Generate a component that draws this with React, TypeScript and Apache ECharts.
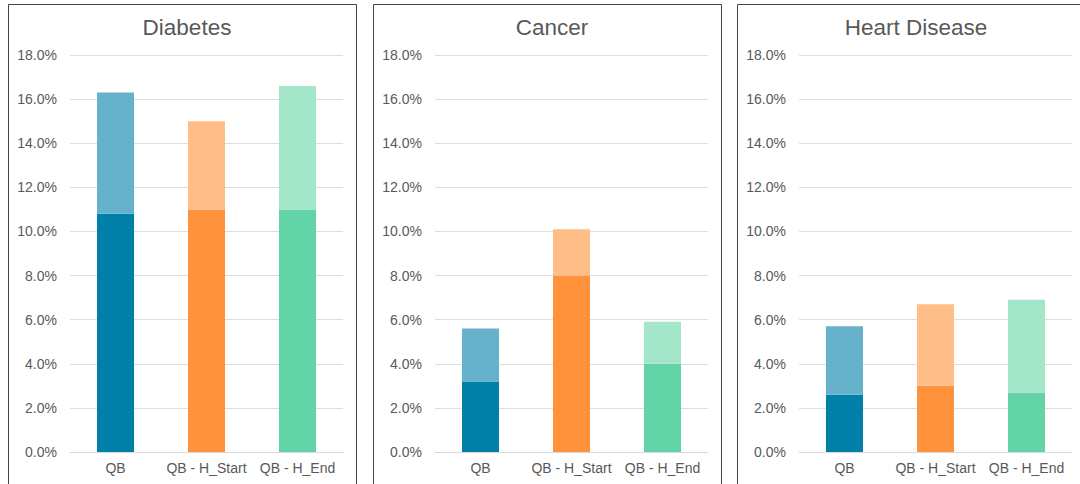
import React, { useEffect, useRef } from "react";
import * as echarts from "echarts";

// Category labels shared by every panel
const categories = ["QB", "QB - H_Start", "QB - H_End"];
const panelTitles = ["Diabetes", "Cancer", "Heart Disease"];

// Lower (darker) segment of each bar
const diabetesBase = [0.108, 0.11, 0.11];
const cancerBase = [0.032, 0.08, 0.04];
const heartBase = [0.026, 0.03, 0.027];

// Full bar height (lower + upper segment)
const diabetesTotal = [0.163, 0.15, 0.166];
const cancerTotal = [0.056, 0.101, 0.059];
const heartTotal = [0.057, 0.067, 0.069];

const yTicks = { min: 0, max: 0.18, interval: 0.02 };

const darkColors = ["#0080a8", "#ff923a", "#62d4a7"];
const lightColors = ["#67b2cb", "#ffbe88", "#a3e6ca"];

const TEXT = "#595959";
const FONT = "Liberation Sans, Arial, sans-serif";

const panels = [
  { title: panelTitles[0], base: diabetesBase, total: diabetesTotal, x: 8 },
  { title: panelTitles[1], base: cancerBase, total: cancerTotal, x: 373 },
  { title: panelTitles[2], base: heartBase, total: heartTotal, x: 737 },
];

const PANEL_W = 348;

export default function App() {
  const ref = useRef<HTMLDivElement>(null);

  useEffect(() => {
    if (!ref.current) return;
    const chart = echarts.init(ref.current, undefined, { renderer: "svg" });

    const grids: any[] = [];
    const xAxes: any[] = [];
    const yAxes: any[] = [];
    const series: any[] = [];
    const titles: any[] = [];
    const frames: any[] = [];

    panels.forEach((p, i) => {
      grids.push({ left: p.x + 62, width: 273, top: 55, height: 397 });
      titles.push({
        text: p.title,
        left: p.x + PANEL_W / 2,
        textAlign: "center",
        top: 11,
        textStyle: { color: TEXT, fontSize: 22.5, fontWeight: "normal", fontFamily: FONT },
      });
      xAxes.push({
        type: "category",
        gridIndex: i,
        data: categories,
        axisLine: { show: true, lineStyle: { color: "#d9d9d9" } },
        axisTick: { show: false },
        axisLabel: { color: TEXT, fontSize: 14, fontFamily: FONT, margin: 9, interval: 0 },
      });
      yAxes.push({
        type: "value",
        gridIndex: i,
        min: yTicks.min,
        max: yTicks.max,
        interval: yTicks.interval,
        axisLine: { show: false },
        axisTick: { show: false },
        splitLine: { lineStyle: { color: "#dedede", width: 1 } },
        axisLabel: {
          color: TEXT,
          fontSize: 14,
          fontFamily: FONT,
          margin: 13,
          formatter: (v: number) => (v * 100).toFixed(1) + "%",
        },
      });
      series.push({
        type: "bar",
        xAxisIndex: i,
        yAxisIndex: i,
        stack: "s" + i,
        barWidth: 37,
        data: p.base.map((v, k) => ({ value: v, itemStyle: { color: darkColors[k] } })),
      });
      series.push({
        type: "bar",
        xAxisIndex: i,
        yAxisIndex: i,
        stack: "s" + i,
        barWidth: 37,
        data: p.total.map((v, k) => ({
          value: +(v - p.base[k]).toFixed(4),
          itemStyle: { color: lightColors[k] },
        })),
      });
      frames.push({
        type: "rect",
        shape: { x: p.x + 0.5, y: 4.5, width: PANEL_W, height: 500 },
        style: { fill: "none", stroke: "#444444", lineWidth: 1 },
        z: 10,
      });
    });

    chart.setOption({
      animation: false,
      backgroundColor: "#ffffff",
      title: titles,
      grid: grids,
      xAxis: xAxes,
      yAxis: yAxes,
      series,
      graphic: frames,
    });

    return () => chart.dispose();
  }, []);

  return (
    <div
      ref={ref}
      style={{ position: "absolute", left: 0, top: 0, width: 1080, height: 484 }}
    />
  );
}
